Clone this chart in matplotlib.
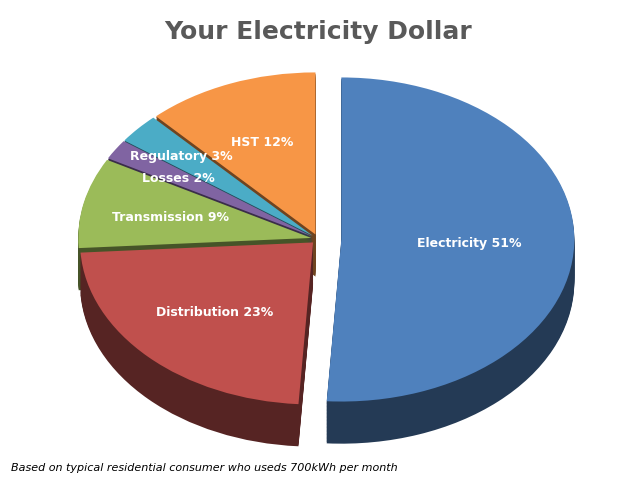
import matplotlib
matplotlib.use("Agg")
import matplotlib.pyplot as plt
import matplotlib.colors as mc
import numpy as np

labels = ["Electricity", "Distribution", "Transmission", "Losses", "Regulatory", "HST"]
values = [51, 23, 9, 2, 3, 12]
colors = ["#4F81BD", "#C0504D", "#9BBB59", "#8064A2", "#4BACC6", "#F79646"]
explode = [0.1, 0.03, 0.03, 0.03, 0.03, 0.03]

fig = plt.figure(figsize=(6.37, 4.85), dpi=100)
ax = fig.add_axes([0, 0, 1, 1])

def darker(c, f):
    r, g, b = mc.to_rgb(c)
    return (r * f, g * f, b * f)

depth = 0.26
steps = 30
for k in range(steps, 0, -1):
    d = depth * k / steps
    ax.pie(values, explode=explode, colors=[darker(c, 0.45) for c in colors],
           startangle=90, counterclock=False, center=(0, -d),
           wedgeprops=dict(linewidth=0), frame=True)
wedges, _ = ax.pie(values, explode=explode, colors=colors, startangle=90,
                   counterclock=False, center=(0, 0),
                   wedgeprops=dict(linewidth=0), frame=True)
ax.set_aspect("auto")
ax.set_xlim(-1.365, 1.369)
ax.set_ylim(-1.512, 1.481)
ax.axis("off")

dists = [0.55, 0.6, 0.62, 0.68, 0.75, 0.62]
for w, lab, v, dd in zip(wedges, labels, values, dists):
    ang = np.deg2rad((w.theta1 + w.theta2) / 2)
    cx, cy = w.center
    ax.text(cx + dd * np.cos(ang), cy + dd * np.sin(ang), f"{lab} {v}%",
            ha="center", va="center", color="white", fontsize=9, fontweight="bold")

fig.text(0.5, 0.935, "Your Electricity Dollar", ha="center", va="center",
         fontsize=18, fontweight="bold", color="#595959")
fig.text(0.018, 0.035, "Based on typical residential consumer who useds 700kWh per month",
         ha="left", va="center", fontsize=8, style="italic", color="black")

fig.savefig("out.png", dpi=100)
